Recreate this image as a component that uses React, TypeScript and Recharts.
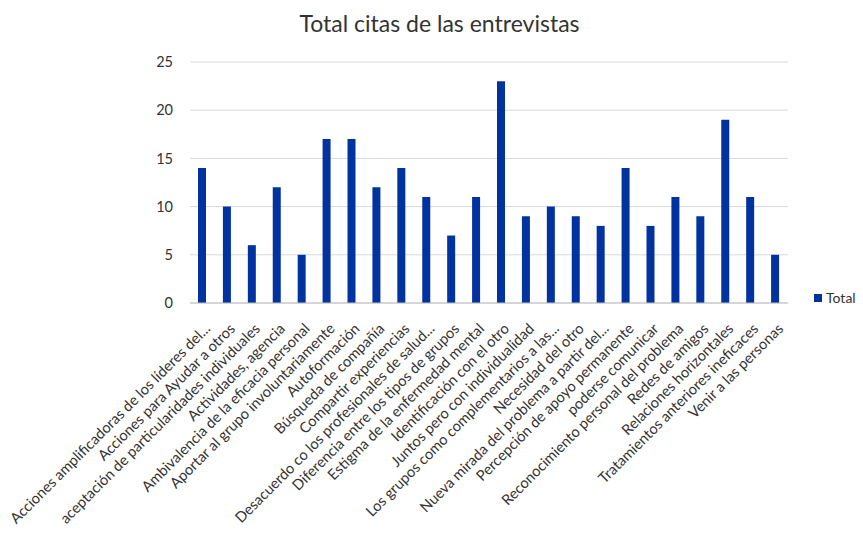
import React from "react";
import { BarChart, Bar, XAxis, YAxis, CartesianGrid } from "recharts";

const categories = [
  "Acciones amplificadoras de los líderes del...",
  "Acciones para Ayudar a otros",
  "aceptación de particularidades individuales",
  "Actividades, agencia",
  "Ambivalencia de la eficacia personal",
  "Aportar al grupo involuntariamente",
  "Autoformación",
  "Búsqueda de compañía",
  "Compartir experiencias",
  "Desacuerdo co los profesionales de salud...",
  "Diferencia entre los tipos de grupos",
  "Estigma de la enfermedad mental",
  "Identificación con el otro",
  "Juntos pero con individualidad",
  "Los grupos como complementarios a las...",
  "Necesidad del otro",
  "Nueva mirada del problema a partir del...",
  "Percepción de apoyo permanente",
  "poderse comunicar",
  "Reconocimiento personal del problema",
  "Redes de amigos",
  "Relaciones horizontales",
  "Tratamientos anteriores ineficaces",
  "Venir a las personas",
];

const totals = [14, 10, 6, 12, 5, 17, 17, 12, 14, 11, 7, 11, 23, 9, 10, 9, 8, 14, 8, 11, 9, 19, 11, 5];

const yTicks = [0, 5, 10, 15, 20, 25];

const data = categories.map((name, i) => ({ name, Total: totals[i] }));

const FONT = "Lato, 'Open Sans', sans-serif";
const TEXT = "#333333";

const XTick = (props: any) => {
  const { x, y, payload } = props;
  return (
    <g transform={`translate(${x + 6},${y + 16})`}>
      <text
        x={0}
        y={0}
        textAnchor="end"
        transform="rotate(-45)"
        fontSize={14.7}
        fontFamily={FONT}
        fill={TEXT}
        dominantBaseline="middle"
      >
        {payload.value}
      </text>
    </g>
  );
};

export default function App() {
  return (
    <div style={{ position: "absolute", left: 0, top: 0, width: 863, height: 538, background: "#fff" }}>
      <div
        style={{
          position: "absolute",
          left: 8,
          width: 863,
          top: 9,
          textAlign: "center",
          fontFamily: FONT,
          fontSize: 23,
          color: TEXT,
        }}
      >
        Total citas de las entrevistas
      </div>
      <BarChart
        width={863}
        height={538}
        data={data}
        margin={{ top: 62, right: 75, bottom: 0, left: 0 }}
        barCategoryGap={0}
      >
        <CartesianGrid vertical={false} stroke="#d9d9d9" />
        <XAxis
          dataKey="name"
          interval={0}
          tick={<XTick />}
          tickLine={false}
          axisLine={{ stroke: "#bfbfbf" }}
          height={235}
        />
        <YAxis
          domain={[0, 25]}
          ticks={yTicks}
          axisLine={false}
          tickLine={false}
          width={190}
          tick={{ fontSize: 14.5, fontFamily: FONT, fill: TEXT }}
          tickMargin={11}
        />
        <Bar dataKey="Total" fill="#0033a0" barSize={8} isAnimationActive={false} />
      </BarChart>
      <div
        style={{
          position: "absolute",
          left: 814,
          top: 289,
          display: "flex",
          alignItems: "center",
          fontFamily: FONT,
          fontSize: 14,
          color: TEXT,
        }}
      >
        <div style={{ width: 8, height: 8, background: "#0033a0", marginRight: 4 }} />
        <span>Total</span>
      </div>
    </div>
  );
}
